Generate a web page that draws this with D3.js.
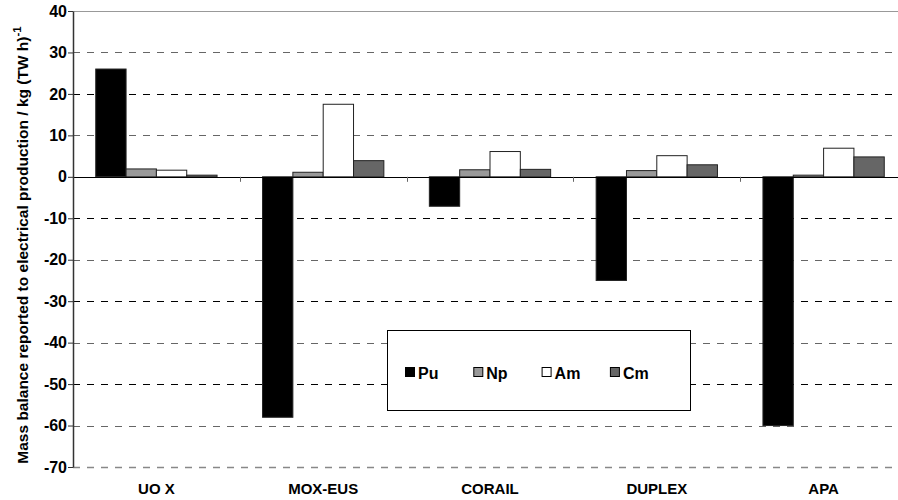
<!DOCTYPE html>
<html>
<head>
<meta charset="utf-8">
<script src="https://cdn.jsdelivr.net/npm/d3@7"></script>
<style>
  body { margin: 0; background: #fff; }
  svg text { font-family: Arial, "Liberation Sans", sans-serif; font-weight: bold; }
  svg text.cat { font-family: "Liberation Sans Narrow", "Arial Narrow", Arial, sans-serif; }
</style>
</head>
<body>
<div id="chart"></div>
<script>
// chart data
const categories = ['UO X', 'MOX-EUS', 'CORAIL', 'DUPLEX', 'APA'];
const seriesNames = ['Pu', 'Np', 'Am', 'Cm'];
const puValues = [26.0, -58.0, -7.1, -25.0, -60.0];
const npValues = [1.9, 1.1, 1.7, 1.5, 0.4];
const amValues = [1.6, 17.5, 6.1, 5.1, 6.9];
const cmValues = [0.4, 3.9, 1.8, 2.9, 4.8];
const yTicks = [40, 30, 20, 10, 0, -10, -20, -30, -40, -50, -60, -70];

const seriesValues = [puValues, npValues, amValues, cmValues];
const colors = ['#000000', '#999999', '#ffffff', '#666666'];

const width = 898, height = 500;
const margin = [11, 33, 73, -9]; // top, bottom, left, right (plot runs past right edge)
const chartWidth = width - margin[2] - margin[3];
const chartHeight = height - margin[0] - margin[1];

const svg = d3.select('#chart').append('svg')
    .attr('width', width)
    .attr('height', height);

const chart = svg.append('g')
    .attr('transform', `translate(${margin[2]},${margin[0]})`);

let scaleX = d3.scaleBand().domain(categories).range([0, chartWidth]).paddingInner(0).paddingOuter(0);
let scaleY = d3.scaleLinear().domain([-70, 40]).range([chartHeight, 0]);
// gap width 150% -> 4 bars + 1.5 bar widths per category
let barW = scaleX.bandwidth() / 5.5;
let innerX = d3.scaleBand().domain(seriesNames).range([barW * 0.75, barW * 4.75]);

// gridlines
chart.selectAll('line.grid')
    .data(yTicks.filter(t => t !== 0))
    .join('line')
    .classed('grid', true)
    .attr('x1', 0)
    .attr('x2', chartWidth)
    .attr('y1', d => Math.round(scaleY(d)) + 0.5)
    .attr('y2', d => Math.round(scaleY(d)) + 0.5)
    .attr('stroke', (d, i) => d === 40 ? '#999' : (d === -70 ? '#888' : (i % 2 ? '#666' : '#000')))
    .attr('stroke-width', d => d === -70 ? 1.5 : 1)
    .attr('stroke-dasharray', d => d === 40 ? null : '7,7');

// bars
const groups = chart.selectAll('g.series')
    .data(seriesNames)
    .join('g')
    .classed('series', true);

groups.selectAll('rect')
    .data((s, si) => categories.map((c, ci) => ({ cat: c, s: s, v: seriesValues[si][ci], fill: colors[si] })))
    .join('rect')
    .attr('x', d => scaleX(d.cat) + innerX(d.s))
    .attr('width', innerX.bandwidth())
    .attr('y', d => scaleY(Math.max(0, d.v)))
    .attr('height', d => Math.abs(scaleY(d.v) - scaleY(0)))
    .attr('fill', d => d.fill)
    .attr('stroke', '#222')
    .attr('stroke-width', 1);

// zero line
chart.append('line')
    .attr('x1', 0).attr('x2', chartWidth)
    .attr('y1', Math.round(scaleY(0)) + 0.5).attr('y2', Math.round(scaleY(0)) + 0.5)
    .attr('stroke', '#000').attr('stroke-width', 1.2);

// category ticks on the zero line
chart.selectAll('line.ctick')
    .data(categories.slice(1))
    .join('line')
    .classed('ctick', true)
    .attr('x1', d => Math.round(scaleX(d)) + 0.5)
    .attr('x2', d => Math.round(scaleX(d)) + 0.5)
    .attr('y1', scaleY(0))
    .attr('y2', scaleY(0) + 5)
    .attr('stroke', '#666');

// y axis
const yAxis = d3.axisLeft(scaleY).tickValues(yTicks).tickFormat(d => String(d))
    .tickSize(5).tickSizeOuter(0).tickPadding(1);
const axisY = chart.append('g').call(yAxis)
    .attr('font-family', null).attr('font-size', null);
axisY.select('.domain').attr('stroke', '#333').attr('stroke-width', 1.5);
axisY.selectAll('.tick line').attr('stroke', '#333');
axisY.selectAll('.tick text')
    .attr('fill', '#000')
    .style('font-size', '16px')
    .style('font-weight', '700');

// category labels
chart.selectAll('text.cat')
    .data(categories)
    .join('text')
    .classed('cat', true)
    .attr('x', d => scaleX(d) + scaleX.bandwidth() / 2)
    .attr('y', chartHeight + 27)
    .attr('text-anchor', 'middle')
    .style('font-size', '15px')
    .text(d => d);

// y title
const title = svg.append('text')
    .attr('transform', `translate(28, ${margin[0] + chartHeight / 2 + 6}) rotate(-90)`)
    .attr('text-anchor', 'middle')
    .style('font-size', '15.5px');
title.append('tspan').text('Mass balance reported to electrical production / kg (TW h)');
title.append('tspan').attr('dy', -7).style('font-size', '11.5px').text('-1');

// legend
const legend = svg.append('g').attr('transform', 'translate(387,330)');
legend.append('rect')
    .attr('x', 0.5).attr('y', 0.5)
    .attr('width', 303).attr('height', 80)
    .attr('fill', '#fff')
    .attr('stroke', '#000');

const items = legend.selectAll('g.item')
    .data(seriesNames)
    .join('g')
    .classed('item', true)
    .attr('transform', (d, i) => `translate(${18 + i * 68.3},0)`);
items.append('rect')
    .attr('x', 0.5).attr('y', 37.5)
    .attr('width', 9).attr('height', 9)
    .attr('fill', (d, i) => colors[i])
    .attr('stroke', '#000');
items.append('text')
    .attr('x', 13).attr('y', 49)
    .style('font-size', '16px')
    .text(d => d);
</script>
</body>
</html>
